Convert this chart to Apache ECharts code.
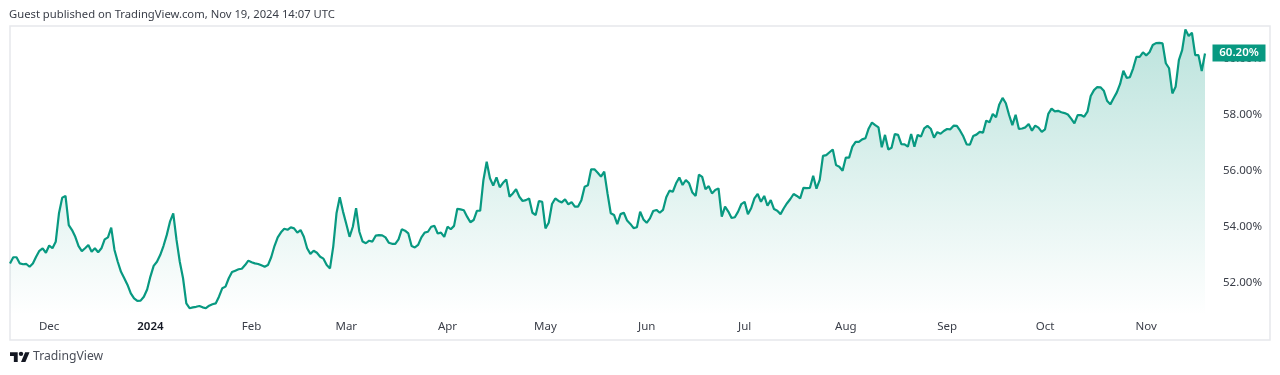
<!DOCTYPE html>
<html><head><meta charset="utf-8">
<style>html,body{margin:0;padding:0;background:#fff}#c{width:1280px;height:375px}</style>
<script src="https://cdn.jsdelivr.net/npm/echarts@6/dist/echarts.min.js"></script>
</head><body><div id="c"></div>
<script>
const titleText = 'Guest published on TradingView.com, Nov 19, 2024 14:07 UTC';
const brandText = 'TradingView';
const startDate = '2023-11-19';
const monthLabels = ['2024','Feb','Mar','Apr','May','Jun','Jul','Aug','Sep','Oct','Nov','Dec'];
const yTicks = [52,54,56,58,60];
const lastLabel = '60.20%';
const values = [
52.70,52.92,52.92,52.70,52.67,52.68,52.58,52.70,52.94,53.15,
53.24,53.08,53.34,53.24,53.47,54.49,55.05,55.11,54.07,53.89,
53.65,53.32,53.14,53.24,53.36,53.12,53.24,53.10,53.24,53.56,
53.63,53.98,53.18,52.76,52.40,52.17,51.93,51.63,51.45,51.36,
51.37,51.51,51.77,52.23,52.61,52.76,53.00,53.32,53.71,54.19,
54.49,53.54,52.76,52.17,51.27,51.10,51.13,51.15,51.18,51.13,
51.10,51.19,51.24,51.27,51.51,51.81,51.87,52.17,52.39,52.44,
52.49,52.51,52.64,52.80,52.74,52.70,52.68,52.63,52.58,52.64,
52.92,53.32,53.63,53.81,53.94,53.90,53.99,53.95,53.80,53.89,
53.65,53.24,53.04,53.15,53.08,52.94,52.87,52.64,52.52,53.30,
54.49,55.06,54.55,54.11,53.65,54.01,54.67,53.83,53.48,53.42,
53.51,53.48,53.69,53.71,53.70,53.63,53.44,53.40,53.40,53.56,
53.92,53.87,53.77,53.32,53.27,53.36,53.63,53.80,53.83,
54.01,54.04,53.77,53.80,53.65,54.01,53.92,54.04,54.65,54.63,
54.60,54.37,54.17,54.25,54.58,54.58,55.68,56.33,55.74,55.48,
55.77,55.42,55.58,55.70,55.08,55.20,55.35,55.08,54.93,54.96,
55.02,54.51,54.43,54.93,54.90,53.95,54.15,54.82,55.02,54.93,
54.88,54.99,54.81,54.89,54.73,54.73,54.96,55.44,55.49,56.06,
56.06,55.94,55.80,55.98,55.20,54.49,54.43,54.10,54.46,54.51,
54.23,54.11,53.96,53.99,54.55,54.27,54.15,54.31,54.57,54.61,
54.51,54.61,55.06,55.30,55.26,55.56,55.77,55.50,55.68,55.56,
55.23,55.11,55.87,55.79,55.35,55.46,55.20,55.32,55.38,54.37,
54.73,54.55,54.32,54.35,54.55,54.82,54.90,54.46,54.67,55.02,
55.18,54.90,55.11,54.76,54.96,54.64,54.58,54.46,54.67,54.85,
55.00,55.18,55.11,55.02,55.40,55.39,55.40,55.83,55.37,55.68,
56.54,56.57,56.67,56.77,56.21,56.15,56.01,56.48,56.48,56.87,
57.04,57.04,
57.13,57.17,57.52,57.73,57.64,57.56,56.85,57.29,56.77,56.83,
57.32,57.29,56.96,56.95,56.87,57.32,56.87,57.29,57.23,57.52,
57.61,57.51,57.19,57.39,57.33,57.43,57.50,57.49,57.62,57.61,
57.44,57.23,56.95,56.94,57.25,57.30,57.40,57.37,57.80,57.74,
58.04,57.92,58.38,58.61,58.42,58.00,57.64,58.01,57.50,57.52,
57.56,57.68,57.44,57.62,57.55,57.40,57.49,58.04,58.23,58.13,
58.15,58.10,58.07,58.02,57.87,57.70,58.00,58.00,57.94,58.12,
58.68,58.89,59.00,58.99,58.87,58.51,58.38,58.60,58.81,59.11,
59.58,59.33,59.35,59.67,60.08,60.08,60.24,60.13,60.24,60.50,
60.57,60.58,60.56,59.85,59.67,58.77,59.01,59.96,60.32,61.06,
60.82,60.94,60.14,60.14,59.57,60.20
];

const FONT = '"Noto Sans", sans-serif';
const GREEN = '#089981';
const dates = values.map((_, i) => {
  const d = new Date(startDate + 'T00:00:00Z');
  d.setUTCDate(d.getUTCDate() + i);
  return d.toISOString().slice(0, 10);
});
const isMonthStart = (i, v) => v.slice(8) === '01';

const chart = echarts.init(document.getElementById('c'), null, {renderer: 'canvas'});
chart.setOption({
  animation: false,
  backgroundColor: '#fff',
  title: {show: false},
  grid: {left: 10, top: 26, width: 1195, height: 289, containLabel: false},
  xAxis: {
    type: 'category', data: dates, boundaryGap: false,
    axisLine: {show: false}, axisTick: {show: false}, splitLine: {show: false},
    axisLabel: {
      interval: isMonthStart, margin: 6, fontFamily: FONT, fontSize: 11.5, color: '#3a3e48',
      formatter: v => {
        const m = parseInt(v.slice(5, 7), 10);
        const t = m === 1 ? monthLabels[0] : monthLabels[m - 1];
        return m === 1 ? '{b|' + t + '}' : t;
      },
      rich: {b: {fontFamily: FONT, fontSize: 11.5, fontWeight: 600, color: '#131722'}}
    }
  },
  yAxis: {
    type: 'value', position: 'right', min: 50.857, max: 61.18, z: 1,
    axisLine: {show: false}, axisTick: {show: false}, splitLine: {show: false},
    axisLabel: {
      customValues: yTicks, margin: 18, fontFamily: FONT, fontSize: 11.5, color: '#3a3e48',
      padding: [2, 0, 0, 0], hideOverlap: false, showMinLabel: true, showMaxLabel: true,
      formatter: v => v.toFixed(2) + '%'
    }
  },
  series: [{
    type: 'line', data: values, symbol: 'none', smooth: false, z: 5,
    lineStyle: {color: GREEN, width: 2.2},
    areaStyle: {
      origin: 'start', opacity: 1,
      color: new echarts.graphic.LinearGradient(0, 26, 0, 315, [
        {offset: 0, color: 'rgba(8,153,129,0.28)'},
        {offset: 1, color: 'rgba(8,153,129,0)'}
      ], true)
    },
    markPoint: {
      silent: true, z: 20, animation: false,
      data: [{coord: [values.length - 1, values[values.length - 1]]}],
      symbol: 'rect', symbolSize: [53, 17], symbolOffset: [34, -0.5],
      itemStyle: {color: GREEN},
      label: {
        show: true, position: 'inside', formatter: lastLabel,
        color: '#fff', fontFamily: FONT, fontSize: 11.5, fontWeight: 600
      }
    }
  }],
  graphic: [
    {type: 'rect', silent: true, z: -1,
     shape: {x: 10, y: 26, width: 1260, height: 314},
     style: {fill: 'none', stroke: '#e6e8ec', lineWidth: 1.5}},
    {type: 'text', silent: true, x: 9, y: 9,
     style: {text: titleText, fontFamily: FONT, fontSize: 11.25, fill: '#3a3e48'}},
    {type: 'group', silent: true, x: 10, y: 350, scaleX: 0.55, scaleY: 0.55, children: [
      {type: 'polygon', shape: {points: [[0,4],[14,4],[14,22],[7,22],[7,11],[0,11]]}, style: {fill: '#131722'}},
      {type: 'polygon', shape: {points: [[27.5,4],[35.5,4],[28,22],[20,22]]}, style: {fill: '#131722'}},
      {type: 'circle', shape: {cx: 20, cy: 7, r: 4}, style: {fill: '#131722'}}
    ]},
    {type: 'text', silent: true, x: 33, y: 351,
     style: {text: brandText, fontFamily: FONT, fontSize: 12.2, fill: '#4a4e58'}}
  ]
});
</script></body></html>
